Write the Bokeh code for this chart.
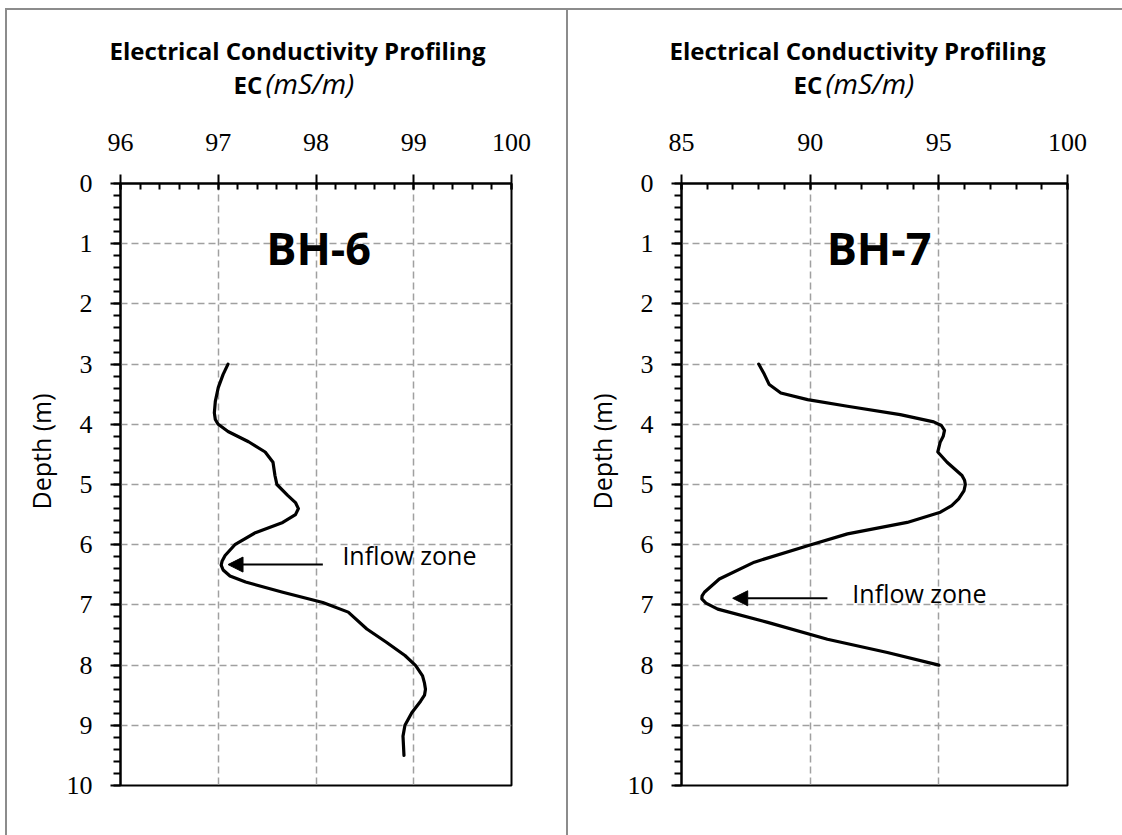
from bokeh.plotting import figure
from bokeh.layouts import row
from bokeh.models import (Range1d, SingleIntervalTicker, Label, Arrow, NormalHead,
                          ColumnDataSource, Title)
from bokeh.embed import file_html
from bokeh.resources import INLINE

# ---------------- data ----------------
depth_bh6 = [3.0, 3.17, 3.39, 3.62, 3.81, 3.92, 4.0, 4.12, 4.29, 4.46, 4.63, 4.85, 5.0,
             5.18, 5.3, 5.4, 5.5, 5.63, 5.8, 6.0, 6.18, 6.27, 6.34, 6.42, 6.52, 6.62, 6.79, 6.96,
             7.12, 7.4, 7.62, 7.84, 8.01, 8.18, 8.3, 8.4, 8.5, 8.6, 8.79, 9.0, 9.18, 9.5]
ec_bh6 = [97.10, 97.05, 97.00, 96.97, 96.96, 96.97, 97.00, 97.10, 97.31, 97.48, 97.56, 97.58, 97.60,
          97.71, 97.79, 97.82, 97.79, 97.66, 97.38, 97.17, 97.07, 97.04, 97.03, 97.05, 97.12, 97.28, 97.66, 98.07,
          98.33, 98.52, 98.72, 98.91, 99.02, 99.09, 99.11, 99.12, 99.11, 99.07, 98.98, 98.91, 98.89, 98.90]

depth_bh7 = [3.0, 3.17, 3.34, 3.48, 3.59, 3.7, 3.84, 3.96, 4.02, 4.1, 4.2, 4.3, 4.46, 4.63,
             4.85, 4.93, 5.0, 5.1, 5.24, 5.35, 5.46, 5.63, 5.82, 6.0, 6.29, 6.57, 6.79, 6.85,
             6.9, 6.97, 7.07, 7.29, 7.57, 7.79, 8.0]
ec_bh7 = [88.00, 88.22, 88.41, 88.86, 89.90, 91.45, 93.50, 94.80, 95.10, 95.22, 95.17, 95.05, 94.96, 95.32,
          95.90, 96.00, 96.03, 95.98, 95.77, 95.50, 95.06, 93.77, 91.45, 90.03, 87.83, 86.47, 85.89, 85.80,
          85.79, 85.95, 86.41, 88.35, 90.67, 93.00, 95.00]

title_text = "Electrical Conductivity Profiling"
unit_bold = "EC"
unit_italic = "(mS/m)"
depth_label = "Depth (m)"
note_text = "Inflow zone"

# ---------------- annotation placement ----------------
panels = [
    dict(name="BH-6", depth=depth_bh6, ec=ec_bh6, xr=(96, 100), interval=1,
         name_x=97.49, note_x=98.27, note_y=6.17,
         arrow_tail=98.07, arrow_head=97.10, arrow_y=6.33,
         left_margin=5, border_right=True, min_left=113, min_right=59, frame_w=387,
         title_off=-11, ec_off=113, unit_off=145),
    dict(name="BH-7", depth=depth_bh7, ec=ec_bh7, xr=(85, 100), interval=5,
         name_x=90.64, note_x=91.64, note_y=6.80,
         arrow_tail=90.67, arrow_head=86.99, arrow_y=6.89,
         left_margin=0, border_right=False, min_left=113, min_right=55, frame_w=386,
         title_off=-12, ec_off=112, unit_off=144),
]

SANS = "Open Sans"
SERIF = "Liberation Serif"
BORDER = "2px solid #8c8c8c"

figs = []
for cfg in panels:
    p = figure(frame_width=cfg["frame_w"], frame_height=600,
               min_border_left=cfg["min_left"], min_border_right=cfg["min_right"],
               min_border_top=173, min_border_bottom=52,
               x_range=Range1d(*cfg["xr"]), y_range=Range1d(10, 0),
               x_axis_location="above", output_backend="svg", toolbar_location=None,
               background_fill_color="white", border_fill_color="white")
    styles = {"border-top": BORDER}
    if cfg["left_margin"]:
        styles["border-left"] = BORDER
    if cfg["border_right"]:
        styles["border-right"] = BORDER
    p.styles = styles
    p.margin = (8, 0, 0, cfg["left_margin"])

    p.outline_line_color = "black"
    p.outline_line_width = 2
    p.outline_line_alpha = 1.0

    # axes
    p.xaxis.ticker = SingleIntervalTicker(interval=cfg["interval"], num_minor_ticks=5)
    p.yaxis.ticker = SingleIntervalTicker(interval=1, num_minor_ticks=5)
    for ax in (p.xaxis[0], p.yaxis[0]):
        ax.axis_line_color = "black"
        ax.axis_line_width = 2
        ax.major_tick_line_color = "black"
        ax.major_tick_line_width = 2
        ax.minor_tick_line_color = "black"
        ax.minor_tick_line_width = 2
        ax.major_label_text_font = SERIF
        ax.major_label_text_font_size = "26px"
        ax.major_label_text_color = "black"
    xa = p.xaxis[0]
    xa.major_tick_out = 9
    xa.major_tick_in = 6
    xa.minor_tick_out = 0
    xa.minor_tick_in = 6
    xa.major_label_standoff = 24
    # blank axis label used only as vertical room for the "EC (mS/m)" line
    xa.axis_label = " "
    xa.axis_label_text_font_size = "12px"
    xa.axis_label_standoff = 29
    ya = p.yaxis[0]
    ya.major_tick_out = 10
    ya.major_tick_in = 0
    ya.minor_tick_out = 7
    ya.minor_tick_in = 0
    ya.major_label_standoff = 18

    # grid
    for g in (p.xgrid[0], p.ygrid[0]):
        g.grid_line_color = "#a0a0a0"
        g.grid_line_dash = "7 4"
        g.grid_line_width = 1.5

    src = ColumnDataSource(dict(ec=cfg["ec"], depth=cfg["depth"]))
    p.line(x="ec", y="depth", source=src, line_color="black", line_width=3.2,
           line_join="round", line_cap="round")

    # headings (side-panel titles: not clipped to the frame)
    p.add_layout(Title(text=unit_bold, align="left", offset=cfg["ec_off"], vertical_align="middle",
                       standoff=-38, text_font=SANS, text_font_style="bold",
                       text_font_size="24px", text_color="black"), "above")
    p.add_layout(Title(text=unit_italic, align="left", offset=cfg["unit_off"], vertical_align="middle",
                       standoff=-36, text_font=SANS, text_font_style="italic",
                       text_font_size="28px", text_color="black"), "above")
    p.add_layout(Title(text=title_text, align="left", offset=cfg["title_off"], vertical_align="middle",
                       standoff=25, text_font=SANS, text_font_style="bold",
                       text_font_size="24px", text_color="black"), "above")
    p.add_layout(Title(text=depth_label, align="left", offset=276, vertical_align="middle",
                       standoff=10, text_font=SANS, text_font_style="normal",
                       text_font_size="25px", text_color="black"), "left")

    # borehole name
    p.add_layout(Label(x=cfg["name_x"], y=1.07, text=cfg["name"], text_font=SANS,
                       text_font_style="bold", text_font_size="45px", text_align="left",
                       text_baseline="middle", text_color="black"))
    # inflow zone
    p.add_layout(Label(x=cfg["note_x"], y=cfg["note_y"], text=note_text, text_font=SANS,
                       text_font_size="25px", text_align="left", text_baseline="middle",
                       text_color="black"))
    p.add_layout(Arrow(x_start=cfg["arrow_tail"], y_start=cfg["arrow_y"],
                       x_end=cfg["arrow_head"], y_end=cfg["arrow_y"],
                       line_color="black", line_width=2,
                       end=NormalHead(size=15, fill_color="black", line_color="black")))
    figs.append(p)

layout = row(*figs)
open("out.html", "w").write(file_html(layout, INLINE))
